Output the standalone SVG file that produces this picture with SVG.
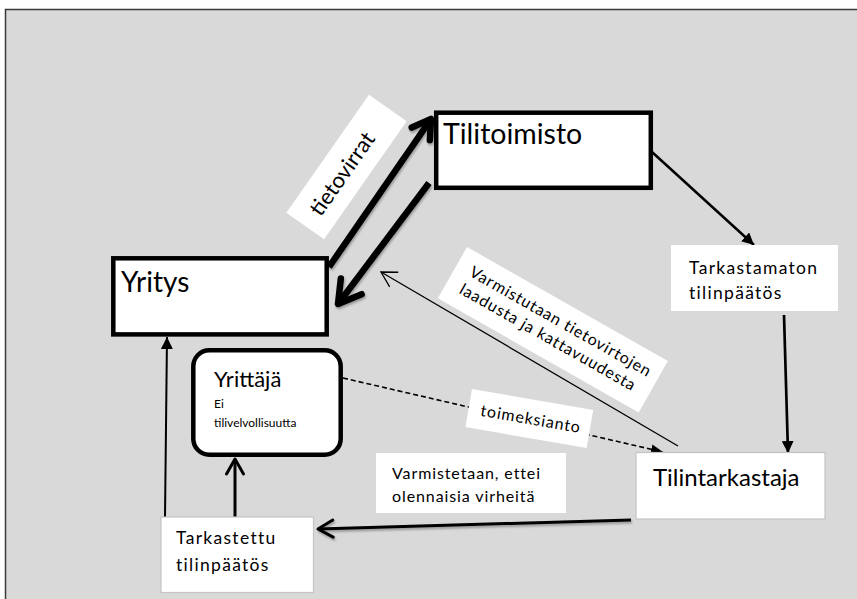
<svg xmlns="http://www.w3.org/2000/svg" width="857" height="599" viewBox="0 0 857 599">
  <style>
    text { font-family: Lato, "Liberation Sans", sans-serif; fill: #000; }
    .box { fill: #fff; stroke: #000; stroke-width: 4.5; }
    .plain { fill: #fff; }
    .soft { fill: #fff; stroke: #c4c4c4; stroke-width: 1.2; }
    .label { fill: #fff; }
    .ln { fill: none; stroke: #000; }
    .spaced { letter-spacing: 0.9px; }
    .wide { letter-spacing: 1.3px; }
  </style>
  <defs>
    <filter id="shadow" x="-20%" y="-20%" width="140%" height="140%">
      <feDropShadow dx="1" dy="2" stdDeviation="1.2" flood-color="#000" flood-opacity="0.3"/>
    </filter>
    <marker id="tri" markerUnits="userSpaceOnUse" viewBox="0 0 12 12" refX="12" refY="6" markerWidth="12" markerHeight="12" orient="auto">
      <path d="M0,0 L12,6 L0,12 Z" fill="#000"/>
    </marker>
    <marker id="triS" markerUnits="userSpaceOnUse" viewBox="0 0 12 10" refX="12" refY="5" markerWidth="12" markerHeight="10" orient="auto">
      <path d="M0,0 L12,5 L0,10 Z" fill="#000"/>
    </marker>
    <marker id="chevL" markerUnits="userSpaceOnUse" viewBox="-4 -4 30 30" refX="20" refY="11" markerWidth="30" markerHeight="30" orient="auto" overflow="visible">
      <path d="M2,0 L20,11 L2,22" fill="none" stroke="#000" stroke-width="6.5" stroke-linecap="round" stroke-linejoin="round"/>
    </marker>
    <marker id="chevXL" markerUnits="userSpaceOnUse" viewBox="-4 -4 36 36" refX="24" refY="13" markerWidth="36" markerHeight="36" orient="auto" overflow="visible">
      <path d="M2,0 L24,13 L2,26" fill="none" stroke="#000" stroke-width="6.5" stroke-linecap="round" stroke-linejoin="round"/>
    </marker>
    <marker id="chevM" markerUnits="userSpaceOnUse" viewBox="-3 -3 24 24" refX="16" refY="8.5" markerWidth="24" markerHeight="24" orient="auto" overflow="visible">
      <path d="M1,0 L16,8.5 L1,17" fill="none" stroke="#000" stroke-width="3" stroke-linecap="round" stroke-linejoin="round"/>
    </marker>
    <marker id="chevS" markerUnits="userSpaceOnUse" viewBox="-2 -2 20 22" refX="15" refY="8.5" markerWidth="20" markerHeight="22" orient="auto" overflow="visible">
      <path d="M0,0 L15,8.5 L0,17" fill="none" stroke="#000" stroke-width="1.3"/>
    </marker>
  </defs>

  <!-- frame -->
  <rect x="5.5" y="9.5" width="860" height="600" fill="#d9d9d9" stroke="#3a3a3a" stroke-width="1.5"/>

  <!-- connectors -->
  <g id="connectors">
    <g filter="url(#shadow)">
      <line class="ln" x1="329" y1="267" x2="431" y2="119" stroke-width="6.5" marker-end="url(#chevL)"/>
      <line class="ln" x1="429" y1="183" x2="338" y2="304" stroke-width="6.5" marker-end="url(#chevXL)"/>
      <line class="ln" x1="631" y1="520" x2="318" y2="529" stroke-width="3" marker-end="url(#chevM)"/>
    </g>
    <line class="ln" x1="652" y1="152" x2="754" y2="245" stroke-width="2.5" marker-end="url(#tri)"/>
    <line class="ln" x1="784" y1="315" x2="788" y2="453" stroke-width="2.7" marker-end="url(#tri)"/>
    <line class="ln" x1="235" y1="517" x2="235" y2="459" stroke-width="3" marker-end="url(#chevM)"/>
    <line class="ln" x1="165" y1="517" x2="167" y2="337" stroke-width="2" marker-end="url(#tri)"/>
    <line class="ln" x1="678" y1="446" x2="381" y2="272" stroke-width="1.3" marker-end="url(#chevS)"/>
    <line class="ln" x1="343" y1="378" x2="663" y2="452" stroke-width="1.6" stroke-dasharray="5,3" marker-end="url(#triS)"/>
  </g>

  <!-- connector labels -->
  <g id="label-tietovirrat" transform="translate(346.5,167) rotate(-55)">
    <rect class="label" x="-72" y="-23" width="144" height="46"/>
    <text x="-8" y="8" font-size="22" text-anchor="middle">tietovirrat</text>
  </g>
  <g id="label-varmistutaan" transform="translate(467,247) rotate(29.6)">
    <rect class="label" x="0" y="0" width="231" height="59"/>
    <text x="15" y="24" font-size="16" class="spaced">Varmistutaan tietovirtojen</text>
    <text x="15" y="44" font-size="16" class="spaced">laadusta ja kattavuudesta</text>
  </g>
  <g id="label-toimeksianto" transform="translate(472,389) rotate(9.8)">
    <rect class="label" x="0" y="0" width="123" height="38.6"/>
    <text x="63" y="25" font-size="16" text-anchor="middle" class="spaced">toimeksianto</text>
  </g>
  <g id="label-varmistetaan">
    <rect class="label" x="376" y="453" width="190" height="60"/>
    <text x="392" y="479" font-size="16" class="spaced">Varmistetaan, ettei</text>
    <text x="392" y="502" font-size="16" class="spaced">olennaisia virheitä</text>
  </g>

  <!-- nodes -->
  <g id="tilitoimisto">
    <rect class="box" x="436.2" y="112.7" width="214.6" height="75.1"/>
    <text x="443" y="144" font-size="28.5">Tilitoimisto</text>
  </g>
  <g id="yritys">
    <rect class="box" x="113.3" y="258.3" width="213.4" height="76.1"/>
    <text x="121" y="292" font-size="28">Yritys</text>
  </g>
  <g id="yrittaja">
    <rect class="box" x="193.3" y="350.3" width="147.4" height="104.4" rx="16" ry="16"/>
    <text x="214" y="387" font-size="22">Yrittäjä</text>
    <text x="214" y="408" font-size="12">Ei</text>
    <text x="214" y="427" font-size="12">tilivelvollisuutta</text>
  </g>
  <g id="tarkastamaton">
    <rect class="plain" x="671" y="245" width="167" height="66"/>
    <text x="689" y="274" font-size="17.5" class="wide">Tarkastamaton</text>
    <text x="689" y="299" font-size="17.5" class="wide">tilinpäätös</text>
  </g>
  <g id="tilintarkastaja">
    <rect class="soft" x="636" y="452.5" width="189" height="66.5"/>
    <text x="653" y="486" font-size="24">Tilintarkastaja</text>
  </g>
  <g id="tarkastettu">
    <rect class="soft" x="161" y="517" width="152.5" height="75.5"/>
    <text x="176" y="544" font-size="17.5" class="wide">Tarkastettu</text>
    <text x="176" y="571" font-size="17.5" class="wide">tilinpäätös</text>
  </g>
</svg>
